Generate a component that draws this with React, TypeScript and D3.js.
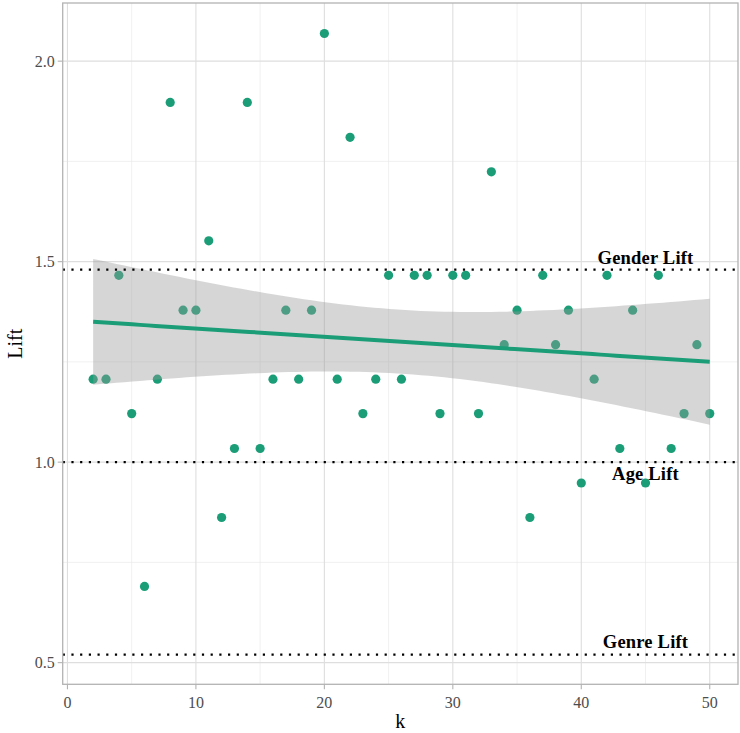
import React from "react";
import * as d3 from "d3";

const kValues = [2,3,4,5,6,7,8,9,10,11,12,13,14,15,16,17,18,19,20,21,22,23,24,25,26,27,28,29,30,31,32,33,34,35,36,37,38,39,40,41,42,43,44,45,46,47,48,49,50];
const liftValues = [1.207,1.207,1.466,1.121,0.690,1.207,1.897,1.379,1.379,1.552,0.862,1.034,1.897,1.034,1.207,1.379,1.207,1.379,2.069,1.207,1.810,1.121,1.207,1.466,1.207,1.466,1.466,1.121,1.466,1.466,1.121,1.724,1.293,1.379,0.862,1.466,1.293,1.379,0.948,1.207,1.466,1.034,1.379,0.948,1.466,1.034,1.121,1.293,1.121];
const refLabels = ["Gender Lift", "Age Lift", "Genre Lift"];
const refValues = [1.48, 1.0, 0.52];
const refLabelY = [1.4945, 0.956, 0.537];
const refLabelX = 45;
const xTicks = [0, 10, 20, 30, 40, 50];
const xMinor = [5, 15, 25, 35, 45];
const yTicks = [0.5, 1.0, 1.5, 2.0];
const yMinor = [0.75, 1.25, 1.75];
const T_975_DF47 = 2.0117;

const W = 740, H = 733;
const PL = 62.7, PR = 738, PT = 3, PB = 684.3;

export default function App() {
  const x = d3.scaleLinear().domain([-0.37, 52.2]).range([PL, PR]);
  const y = d3.scaleLinear().domain([0.446, 2.145]).range([PB, PT]);

  // linear model fit (geom_smooth method = "lm")
  const n = kValues.length;
  const xbar = d3.mean(kValues) as number;
  const ybar = d3.mean(liftValues) as number;
  let sxx = 0, sxy = 0;
  kValues.forEach((k, i) => { sxx += (k - xbar) ** 2; sxy += (k - xbar) * (liftValues[i] - ybar); });
  const b = sxy / sxx;
  const a = ybar - b * xbar;
  let sse = 0;
  kValues.forEach((k, i) => { sse += (liftValues[i] - (a + b * k)) ** 2; });
  const s = Math.sqrt(sse / (n - 2));
  const grid = d3.range(80).map(i => 2 + (48 * i) / 79);
  const fit = grid.map(g => {
    const yh = a + b * g;
    const se = s * Math.sqrt(1 / n + (g - xbar) ** 2 / sxx);
    return { g, yh, lo: yh - T_975_DF47 * se, hi: yh + T_975_DF47 * se };
  });
  const area = d3.area<any>().x(d => x(d.g)).y0(d => y(d.lo)).y1(d => y(d.hi));
  const line = d3.line<any>().x(d => x(d.g)).y(d => y(d.yh));

  const font = "'Liberation Serif', 'Times New Roman', serif";
  const teal = "#1B9E77";

  return (
    <svg width={W} height={H} style={{ position: "absolute", left: 0, top: 0 }} fontFamily={font}>
      <rect x={0} y={0} width={W} height={H} fill="#fff" />
      <defs>
        <clipPath id="panel"><rect x={PL} y={PT} width={PR - PL} height={PB - PT} /></clipPath>
      </defs>
      {xMinor.map(v => <line key={"xm" + v} x1={x(v)} x2={x(v)} y1={PT} y2={PB} stroke="#e6e6e6" strokeWidth={0.6} />)}
      {yMinor.map(v => <line key={"ym" + v} x1={PL} x2={PR} y1={y(v)} y2={y(v)} stroke="#e6e6e6" strokeWidth={0.6} />)}
      {xTicks.map(v => <line key={"xg" + v} x1={x(v)} x2={x(v)} y1={PT} y2={PB} stroke="#dedede" strokeWidth={1.1} />)}
      {yTicks.map(v => <line key={"yg" + v} x1={PL} x2={PR} y1={y(v)} y2={y(v)} stroke="#dedede" strokeWidth={1.1} />)}
      <g clipPath="url(#panel)">
        {kValues.map((k, i) => (
          <circle key={"p" + k} cx={x(k)} cy={y(liftValues[i])} r={4.6} fill={teal} />
        ))}
        <path d={area(fit) as string} fill="#999999" fillOpacity={0.4} />
        <path d={line(fit) as string} fill="none" stroke={teal} strokeWidth={4} />
        {refValues.map(v => (
          <line key={"h" + v} x1={PL} x2={PR} y1={y(v)} y2={y(v)} stroke="#000" strokeWidth={2.2} strokeDasharray="2.2 6.5" />
        ))}
        {refLabels.map((t, i) => (
          <text key={t} x={x(refLabelX)} y={y(refLabelY[i])} textAnchor="middle" fontWeight="bold" fontSize={18.5} letterSpacing={0.2} fill="#000">{t}</text>
        ))}
      </g>
      <rect x={PL} y={PT} width={PR - PL} height={PB - PT} fill="none" stroke="#b3b3b3" strokeWidth={1.3} />
      {xTicks.map(v => (
        <g key={"xt" + v}>
          <line x1={x(v)} x2={x(v)} y1={PB} y2={PB + 5} stroke="#b3b3b3" strokeWidth={1.1} />
          <text x={x(v)} y={PB + 18} textAnchor="middle" dominantBaseline="central" fontSize={16} fill="#4d4d4d">{v}</text>
        </g>
      ))}
      {yTicks.map(v => (
        <g key={"yt" + v}>
          <line x1={PL - 5} x2={PL} y1={y(v)} y2={y(v)} stroke="#b3b3b3" strokeWidth={1.1} />
          <text x={PL - 8} y={y(v)} textAnchor="end" dominantBaseline="central" fontSize={16} fill="#4d4d4d">{v.toFixed(1)}</text>
        </g>
      ))}
      <text x={(PL + PR) / 2} y={721} textAnchor="middle" dominantBaseline="central" fontSize={20} fill="#000">k</text>
      <text transform={`translate(15,${(PT + PB) / 2}) rotate(-90)`} textAnchor="middle" dominantBaseline="central" fontSize={20} fill="#000">Lift</text>
    </svg>
  );
}
